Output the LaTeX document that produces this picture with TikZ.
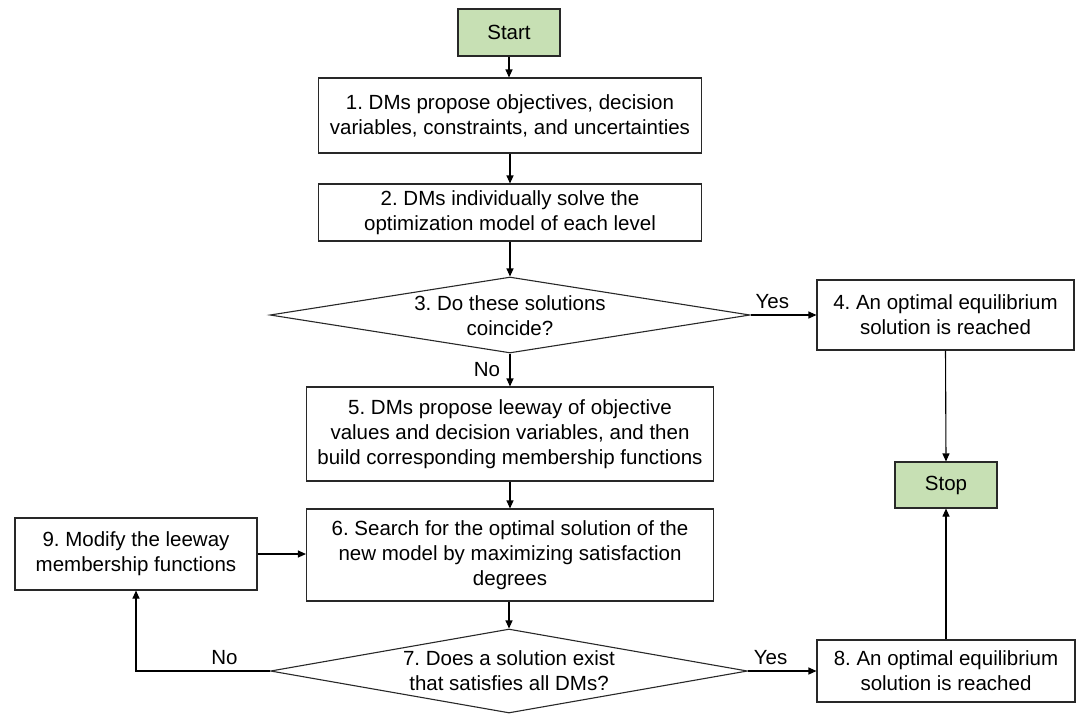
\documentclass[tikz,border=0pt]{standalone}
\usepackage{fontspec}
\setmainfont{Liberation Sans}
\usetikzlibrary{arrows.meta,shapes.geometric}
\definecolor{boxgreen}{RGB}{199,224,180}
\definecolor{edge}{RGB}{40,40,40}
\tikzset{
  txt/.style={font=\fontsize{20.5}{25}\selectfont\frenchspacing},
  proc/.style={txt,draw=edge,line width=1.1pt,rectangle,align=center,inner sep=2pt},
  term/.style={proc,fill=boxgreen},
  decide/.style={draw=edge,line width=1.1pt,diamond,inner sep=0pt},
  dtext/.style={txt,align=center},
  lbl/.style={txt},
  conn/.style={draw=black,line width=1.1pt,-{Triangle[length=8pt,width=7pt]}},
}
\begin{document}
\begin{tikzpicture}[x=1pt,y=-1pt]
\useasboundingbox (0,0) rectangle (1078,713);
\node[term,minimum width=102pt,minimum height=47pt] (start) at (509,32.5) {Start};
\node[proc,minimum width=383pt,minimum height=75pt] (b1) at (510,115.5)
  {1. DMs propose objectives, decision\\variables, constraints, and uncertainties};
\node[proc,minimum width=383pt,minimum height=57pt] (b2) at (510,212.5)
  {2. DMs individually solve the\\optimization model of each level};
\node[decide,minimum width=480pt,minimum height=76pt] (d3) at (510,315) {};
\node[dtext] (t3) at (510,316) {3. Do these solutions\\coincide?};
\node[proc,minimum width=257pt,minimum height=70pt] (b4) at (945.5,315)
  {4. An optimal equilibrium\\solution is reached};
\node[proc,minimum width=407pt,minimum height=94pt] (b5) at (510,434)
  {5. DMs propose leeway of objective\\values and decision variables, and then\\build corresponding membership functions};
\node[term,minimum width=102pt,minimum height=46pt] (stop) at (946,485) {Stop};
\node[proc,minimum width=407pt,minimum height=92pt] (b6) at (510,555)
  {6. Search for the optimal solution of the\\new model by maximizing satisfaction\\degrees};
\node[proc,minimum width=242pt,minimum height=72pt] (b9) at (136,554)
  {9. Modify the leeway\\membership functions};
\node[decide,minimum width=477pt,minimum height=84pt] (d7) at (509,671) {};
\node[dtext] (t7) at (509,671) {7. Does a solution exist\\that satisfies all DMs?};
\node[proc,minimum width=258pt,minimum height=62pt] (b8) at (946,671)
  {8. An optimal equilibrium\\solution is reached};

\draw[conn] (start.south) -- (start.south |- b1.north);
\draw[conn] (b1.south) -- (b2.north);
\draw[conn] (b2.south) -- (d3.north);
\draw[conn] (d3.east) -- (b4.west) node[lbl,pos=0.33,above=2pt] (yes3) {Yes};
\draw[conn] (d3.south) -- (b5.north) node[lbl,midway,left=6pt] (no3) {No};
\draw[conn] (b4.south) -- (stop.north);
\draw[conn] (b5.south) -- (b6.north);
\draw[conn] (b9.east) -- (b9.east -| b6.west);
\draw[conn] (b6.south -| d7.north) -- (d7.north);
\draw[conn] (d7.east) -- (b8.west) node[lbl,pos=0.33,above=2pt] (yes7) {Yes};
\draw[conn] (d7.west) -| node[lbl,pos=0.17,above=2pt] (no7) {No} (b9.south);
\draw[conn] (b8.north) -- (stop.south);
\end{tikzpicture}
\end{document}
